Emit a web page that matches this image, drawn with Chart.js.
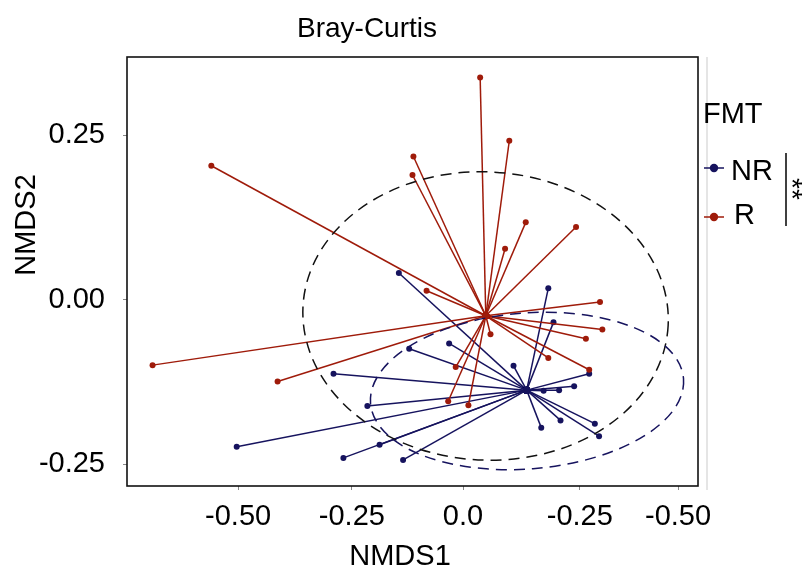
<!DOCTYPE html>
<html>
<head>
<meta charset="utf-8">
<script src="https://cdn.jsdelivr.net/npm/chart.js@4"></script>
<style>
  html, body { margin: 0; padding: 0; background: #fff; }
  #wrap { width: 803px; height: 570px; }
</style>
</head>
<body>
<div id="wrap"><canvas id="nmds"></canvas></div>
<script>
// NMDS coordinates
var groups = ["NR", "R"];

var rCentroid = [0.040, -0.024];
var rX = [-0.544, -0.114, -0.116, 0.028, 0.090, 0.125, 0.232, 0.081, -0.669, -0.403,
          -0.086, 0.283, 0.288, 0.050, 0.253, 0.173, 0.260, -0.024, -0.040, 0.003];
var rY = [0.204, 0.218, 0.190, 0.338, 0.242, 0.118, 0.111, 0.078, -0.099, -0.124,
          0.014, -0.003, -0.045, -0.052, -0.059, -0.088, -0.106, -0.102, -0.154, -0.160];

var nrCentroid = [0.127, -0.137];
var nrX = [-0.145, -0.123, -0.284, -0.212, -0.490, -0.186, -0.263, -0.136, -0.038, 0.173,
           0.184, 0.099, 0.260, 0.228, 0.196, 0.163, 0.158, 0.199, 0.272, 0.281];
var nrY = [0.041, -0.074, -0.112, -0.161, -0.223, -0.220, -0.240, -0.243, -0.066, 0.018,
           -0.034, -0.100, -0.112, -0.131, -0.137, -0.138, -0.194, -0.183, -0.188, -0.207];

// confidence ellipses: centre x, centre y, radius x, radius y, tilt (deg)
var rEllipse = [0.0395, -0.0243, 0.389, 0.219, 3];
var nrEllipse = [0.1277, -0.1383, 0.334, 0.1185, -4.5];

var xTickVals = [-0.487, -0.245, -0.0085, 0.240, 0.449];
var xTickLabels = ["-0.50", "-0.25", "0.0", "-0.25", "-0.50"];
var yTickVals = [0.25, 0, -0.25];
var yTickLabels = ["0.25", "0.00", "-0.25"];

var RED = "#9f1b0a";
var NAVY = "#16135e";
var FONT = "'Liberation Sans', Arial, sans-serif";

function spokes(c, xs, ys) {
  var out = [];
  xs.forEach(function (v, i) {
    out.push({ x: c[0], y: c[1] });
    out.push({ x: v, y: ys[i] });
  });
  return out;
}

function spokeSet(label, c, xs, ys, color, order) {
  return {
    label: label,
    data: spokes(c, xs, ys),
    showLine: true,
    borderColor: color,
    backgroundColor: color,
    borderWidth: 1.5,
    pointRadius: function (ctx) { return ctx.dataIndex % 2 === 0 ? 3.5 : 3; },
    pointBorderWidth: 0,
    order: order,
    segment: {
      // only centroid -> sample segments are visible
      borderColor: function (ctx) { return ctx.p0DataIndex % 2 === 0 ? color : "rgba(0,0,0,0)"; },
    },
  };
}

var overlay = {
  id: "overlay",
  afterDatasetsDraw: function (chart) {
    var ctx = chart.ctx, xs = chart.scales.x, ys = chart.scales.y, a = chart.chartArea;
    [[rEllipse, "#111"], [nrEllipse, NAVY]].forEach(function (pair) {
      var e = pair[0];
      var cx = xs.getPixelForValue(e[0]), cy = ys.getPixelForValue(e[1]);
      var rx = Math.abs(xs.getPixelForValue(e[0] + e[2]) - cx);
      var ry = Math.abs(ys.getPixelForValue(e[1] + e[3]) - cy);
      ctx.save();
      ctx.beginPath();
      ctx.setLineDash([11, 7]);
      ctx.lineWidth = 1.5;
      ctx.strokeStyle = pair[1];
      ctx.ellipse(cx, cy, rx, ry, e[4] * Math.PI / 180, 0, Math.PI * 2);
      ctx.stroke();
      ctx.restore();
    });
    ctx.save();
    ctx.strokeStyle = "#111";
    ctx.lineWidth = 1.6;
    ctx.strokeRect(a.left, a.top, a.right - a.left, a.bottom - a.top);
    ctx.strokeStyle = "#dcdcdc";
    ctx.lineWidth = 1.5;
    ctx.beginPath();
    ctx.moveTo(707, a.top);
    ctx.lineTo(707, a.bottom + 4);
    ctx.stroke();
    ctx.restore();
  },
  afterDraw: function (chart) {
    var ctx = chart.ctx;
    ctx.save();
    ctx.fillStyle = "#000";
    ctx.font = "28px " + FONT;
    ctx.textAlign = "center";
    ctx.textBaseline = "alphabetic";
    ctx.fillText("Bray-Curtis", 367, 37);
    ctx.font = "29px " + FONT;
    ctx.fillText("NMDS1", 400, 565);
    ctx.save();
    ctx.translate(35, 225);
    ctx.rotate(-Math.PI / 2);
    ctx.fillText("NMDS2", 0, 0);
    ctx.restore();

    // legend
    ctx.textAlign = "left";
    ctx.fillText("FMT", 703, 123);
    [[groups[0], NAVY, 168, 731, 180], [groups[1], RED, 217, 734, 224]].forEach(function (g) {
      ctx.strokeStyle = g[1];
      ctx.lineWidth = 1.5;
      ctx.beginPath();
      ctx.moveTo(704, g[2]);
      ctx.lineTo(724, g[2]);
      ctx.stroke();
      ctx.fillStyle = g[1];
      ctx.beginPath();
      ctx.arc(714, g[2], 4.2, 0, Math.PI * 2);
      ctx.fill();
      ctx.fillStyle = "#000";
      ctx.fillText(g[0], g[3], g[4]);
    });
    ctx.strokeStyle = "#000";
    ctx.lineWidth = 1.5;
    ctx.beginPath();
    ctx.moveTo(786, 153);
    ctx.lineTo(786, 226);
    ctx.stroke();
    // significance mark, turned to run downwards
    ctx.translate(783, 189);
    ctx.rotate(Math.PI / 2);
    ctx.textAlign = "center";
    ctx.font = "28px " + FONT;
    ctx.fillText("**", 0, 0);
    ctx.restore();
  },
};

new Chart(document.getElementById("nmds"), {
  type: "scatter",
  data: {
    datasets: [
      spokeSet(groups[1], rCentroid, rX, rY, RED, 1),
      spokeSet(groups[0], nrCentroid, nrX, nrY, NAVY, 2),
    ],
  },
  options: {
    responsive: true,
    maintainAspectRatio: false,
    animation: false,
    events: [],
    layout: { padding: { left: 0, right: 105, top: 57, bottom: 0 } },
    plugins: { legend: { display: false }, title: { display: false }, tooltip: { enabled: false } },
    scales: {
      x: {
        type: "linear",
        min: -0.7234,
        max: 0.4915,
        afterFit: function (s) { s.height = 84; },
        afterBuildTicks: function (s) { s.ticks = xTickVals.map(function (v) { return { value: v }; }); },
        border: { display: false },
        grid: { drawOnChartArea: false, tickLength: 4, color: "#888", lineWidth: 1 },
        ticks: {
          padding: 10,
          color: "#000",
          font: { family: FONT, size: 29 },
          callback: function (v, i) { return xTickLabels[i]; },
        },
      },
      y: {
        type: "linear",
        min: -0.2827,
        max: 0.3693,
        afterFit: function (s) { s.width = 127; },
        afterBuildTicks: function (s) { s.ticks = yTickVals.map(function (v) { return { value: v }; }); },
        border: { display: false },
        grid: { drawOnChartArea: false, tickLength: 4, color: "#888", lineWidth: 1 },
        ticks: {
          padding: 18,
          color: "#000",
          font: { family: FONT, size: 29 },
          callback: function (v, i) { return yTickLabels[i]; },
        },
      },
    },
  },
  plugins: [overlay],
});
</script>
</body>
</html>
